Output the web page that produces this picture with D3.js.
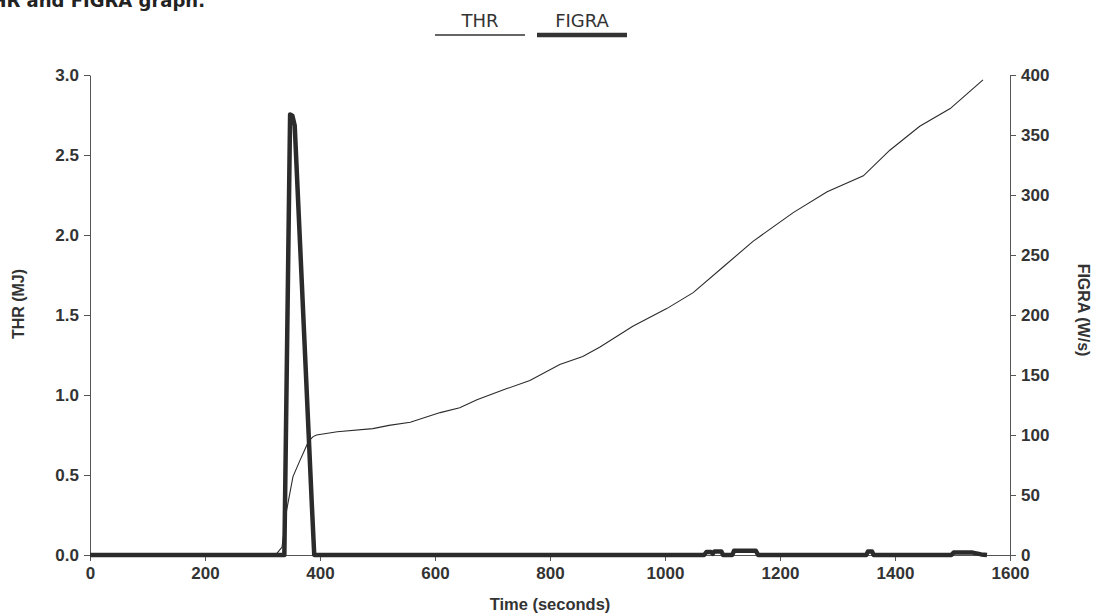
<!DOCTYPE html>
<html><head><meta charset="utf-8">
<script src="https://cdn.jsdelivr.net/npm/d3@7"></script>
<style>
body{margin:0;background:#fff;}
svg{display:block;}
</style></head>
<body>
<script>
const thrTime = [0, 300, 325, 334, 342, 353, 365, 380, 388, 394, 430, 492, 520, 557, 609, 643, 673, 725, 765, 817, 857, 887, 944, 1003, 1049, 1101, 1153, 1223, 1282, 1345, 1391, 1443, 1496, 1553];
const thrValue = [0, 0, 0.01, 0.05, 0.28, 0.49, 0.59, 0.71, 0.74, 0.75, 0.77, 0.79, 0.81, 0.83, 0.89, 0.92, 0.97, 1.04, 1.09, 1.19, 1.24, 1.30, 1.43, 1.54, 1.64, 1.80, 1.96, 2.14, 2.27, 2.37, 2.53, 2.68, 2.79, 2.97];
const figraTime = [0, 338, 348, 352, 356, 386, 390, 1068, 1072, 1080, 1083, 1086, 1098, 1101, 1117, 1120, 1158, 1162, 1350, 1353, 1360, 1363, 1498, 1502, 1535, 1550, 1560];
const figraValue = [0, 0, 367, 366, 358, 40, 0, 0, 2.5, 2.5, 1, 3, 3, 0, 0, 3.5, 3.5, 0, 0, 3, 3, 0, 0, 2, 2, 0.5, 0];
const xTicks = [0, 200, 400, 600, 800, 1000, 1200, 1400, 1600];
const leftTicks = [0, 0.5, 1.0, 1.5, 2.0, 2.5, 3.0];
const rightTicks = [0, 50, 100, 150, 200, 250, 300, 350, 400];
const titleText = "THR and FIGRA graph.";
const legendLabels = ["THR", "FIGRA"];

const W = 1101, H = 616;
const svg = d3.select("body").append("svg").attr("width", W).attr("height", H);
const pL = 90, pR = 1010, pT = 75, pB = 555;
const x = d3.scaleLinear().domain([0, 1600]).range([pL, pR]);
const yL = d3.scaleLinear().domain([0, 3]).range([pB, pT]);
const yR = d3.scaleLinear().domain([0, 400]).range([pB, pT]);
const ink = "#2b2b2b", axisCol = "#555";
const tickFont = "'Liberation Sans', Arial, sans-serif";

// title (cut at top edge, as in the source page)
svg.append("text").attr("x", 205).attr("y", 7).attr("text-anchor", "end")
  .attr("font-family", "'DejaVu Sans', sans-serif").attr("font-weight", "bold")
  .attr("font-size", 18).attr("fill", "#222").text(titleText);

// legend
const leg = [{lab: legendLabels[0], x1: 435, x2: 525, w: 1.3}, {lab: legendLabels[1], x1: 537, x2: 627, w: 4.5}];
leg.forEach(d => {
  svg.append("text").attr("x", (d.x1 + d.x2) / 2).attr("y", 27).attr("text-anchor", "middle")
    .attr("font-family", "'DejaVu Sans', Tahoma, sans-serif").attr("font-size", 18).attr("fill", "#333").text(d.lab);
  svg.append("line").attr("x1", d.x1).attr("x2", d.x2).attr("y1", 35).attr("y2", 35)
    .attr("stroke", "#333").attr("stroke-width", d.w);
});

function styleAxis(g) {
  g.selectAll("path,line").attr("stroke", axisCol).attr("stroke-width", 1);
  g.selectAll("text").attr("font-family", tickFont).attr("font-weight", "bold").attr("font-size", 17).attr("fill", "#333");
}

const gx = svg.append("g").attr("transform", `translate(0,${pB})`);
gx.call(d3.axisBottom(x).tickValues(d3.range(0, 1601, 40)).tickSize(3).tickFormat(""));
gx.call(d3.axisBottom(x).tickValues(xTicks).tickSize(6).tickSizeOuter(0).tickFormat(d3.format("d")).tickPadding(6));
styleAxis(gx);

const gl = svg.append("g").attr("transform", `translate(${pL},0)`);
gl.call(d3.axisLeft(yL).tickValues(d3.range(0, 31).map(i => i / 10)).tickSize(3).tickFormat(""));
gl.call(d3.axisLeft(yL).tickValues(leftTicks).tickSize(6).tickSizeOuter(0).tickFormat(d3.format(".1f")).tickPadding(5));
styleAxis(gl);

const gr = svg.append("g").attr("transform", `translate(${pR},0)`);
gr.call(d3.axisRight(yR).tickValues(d3.range(0, 401, 10)).tickSize(3).tickFormat(""));
gr.call(d3.axisRight(yR).tickValues(rightTicks).tickSize(6).tickSizeOuter(0).tickFormat(d3.format("d")).tickPadding(5));
styleAxis(gr);

// axis titles
svg.append("text").attr("x", 550).attr("y", 610).attr("text-anchor", "middle")
  .attr("font-family", tickFont).attr("font-weight", "bold").attr("font-size", 16.5).attr("fill", "#333").text("Time (seconds)");
svg.append("text").attr("transform", `translate(24,${(pT + pB) / 2 - 11}) rotate(-90)`).attr("text-anchor", "middle")
  .attr("font-family", tickFont).attr("font-weight", "bold").attr("font-size", 16).attr("fill", "#333").text("THR (MJ)");
svg.append("text").attr("transform", `translate(1078,${(pT + pB) / 2 - 5}) rotate(90)`).attr("text-anchor", "middle")
  .attr("font-family", tickFont).attr("font-weight", "bold").attr("font-size", 16).attr("fill", "#333").text("FIGRA (W/s)");

// lines
const thrData = thrTime.map((t, i) => [t, thrValue[i]]);
const figData = figraTime.map((t, i) => [t, figraValue[i]]);
svg.append("path").datum(figData).attr("fill", "none").attr("stroke", ink).attr("stroke-width", 4.5)
  .attr("stroke-linejoin", "round")
  .attr("d", d3.line().x(d => x(d[0])).y(d => yR(d[1])));
svg.append("path").datum(thrData).attr("fill", "none").attr("stroke", ink).attr("stroke-width", 1.1)
  .attr("d", d3.line().x(d => x(d[0])).y(d => yL(d[1])));
</script>
</body></html>
